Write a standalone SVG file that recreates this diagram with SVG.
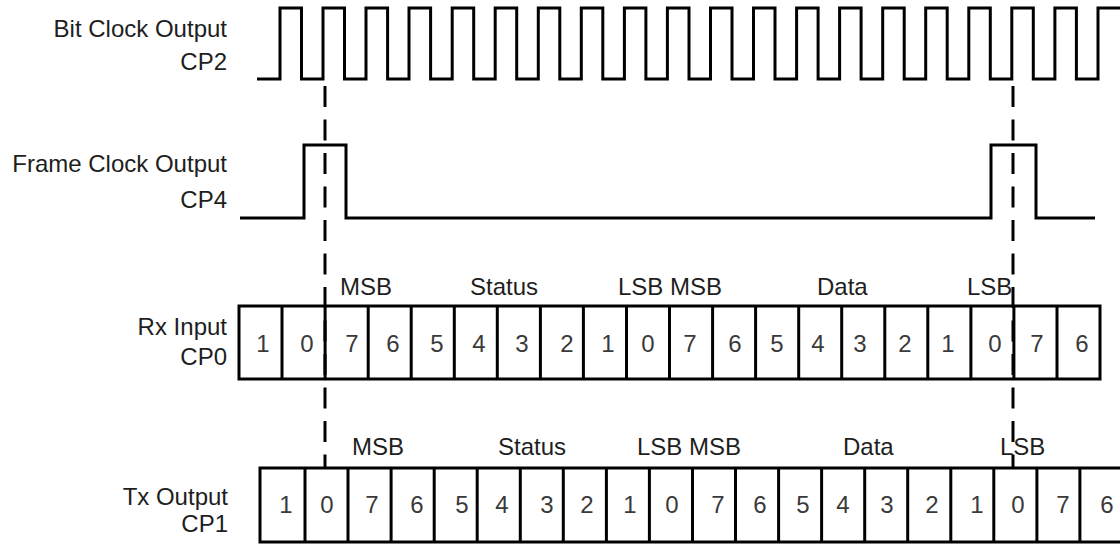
<svg xmlns="http://www.w3.org/2000/svg" width="1120" height="544" viewBox="0 0 1120 544">
<style>
.wave{fill:none;stroke:#000;stroke-width:3;stroke-linejoin:miter}
.box{fill:none;stroke:#000;stroke-width:3}
.div{stroke:#000;stroke-width:3}
.lbl{font-family:"Liberation Sans",Arial,sans-serif;font-size:24px;fill:#1e1e1e;text-anchor:end}
.hdr{font-family:"Liberation Sans",Arial,sans-serif;font-size:24px;fill:#1e1e1e}
.dig{font-family:"Liberation Sans",Arial,sans-serif;font-size:24px;fill:#3a3a3a;text-anchor:middle}
.dash{stroke:#000;stroke-width:3;stroke-dasharray:21 12.5;fill:none}
</style>
<rect width="1120" height="544" fill="#fff"/>

<g id="bitclock">
<text class="lbl" x="227" y="37">Bit Clock Output</text>
<text class="lbl" x="227" y="70">CP2</text>
<path class="wave" d="M257,79 H280 V8 H301.5 V79 H323 V8 H344.5 V79 H366 V8 H387.6 V79 H409 V8 H430.6 V79 H452.2 V8 H473.7 V79 H495.2 V8 H516.7 V79 H538.3 V8 H559.8 V79 H581.3 V8 H602.8 V79 H624.4 V8 H645.9 V79 H667.4 V8 H689 V79 H710.5 V8 H732 V79 H753.5 V8 H775 V79 H796.6 V8 H818.1 V79 H839.6 V8 H861.1 V79 H882.7 V8 H904.2 V79 H925.7 V8 H947.2 V79 H968.8 V8 H990.3 V79 H1011.8 V8 H1033.3 V79 H1054.9 V8 H1076.4 V79 H1098 V8 H1125"/>
</g>

<g id="frameclock">
<text class="lbl" x="227" y="172">Frame Clock Output</text>
<text class="lbl" x="227" y="208">CP4</text>
<path class="wave" d="M240,218 H304 V145 H346 V218 H991 V145 H1036 V218 H1095"/>
</g>

<g id="rx">
<text class="lbl" x="227" y="335">Rx Input</text>
<text class="lbl" x="227" y="365">CP0</text>
<text class="hdr" x="340" y="295">MSB</text>
<text class="hdr" x="470" y="295">Status</text>
<text class="hdr" x="618" y="295">LSB MSB</text>
<text class="hdr" x="817" y="295">Data</text>
<text class="hdr" x="967" y="295">LSB</text>
<rect class="box" x="239" y="306" width="861" height="73"/>
<path class="div" d="M282,306V379 M325.1,306V379 M368.2,306V379 M411.2,306V379 M454.3,306V379 M497.3,306V379 M540.4,306V379 M583.4,306V379 M626.5,306V379 M669.5,306V379 M712.6,306V379 M755.6,306V379 M798.7,306V379 M841.7,306V379 M884.8,306V379 M927.8,306V379 M970.9,306V379 M1013.9,306V379 M1057,306V379"/>
<text class="dig" x="263" y="352">1</text>
<text class="dig" x="307" y="352">0</text>
<text class="dig" x="352" y="352">7</text>
<text class="dig" x="393" y="352">6</text>
<text class="dig" x="437" y="352">5</text>
<text class="dig" x="479" y="352">4</text>
<text class="dig" x="522" y="352">3</text>
<text class="dig" x="567" y="352">2</text>
<text class="dig" x="608" y="352">1</text>
<text class="dig" x="648" y="352">0</text>
<text class="dig" x="690" y="352">7</text>
<text class="dig" x="735" y="352">6</text>
<text class="dig" x="777" y="352">5</text>
<text class="dig" x="818" y="352">4</text>
<text class="dig" x="860" y="352">3</text>
<text class="dig" x="905" y="352">2</text>
<text class="dig" x="948" y="352">1</text>
<text class="dig" x="995" y="352">0</text>
<text class="dig" x="1037" y="352">7</text>
<text class="dig" x="1082" y="352">6</text>
</g>

<g id="tx">
<text class="lbl" x="228" y="505">Tx Output</text>
<text class="lbl" x="228" y="532">CP1</text>
<text class="hdr" x="352" y="455">MSB</text>
<text class="hdr" x="498" y="455">Status</text>
<text class="hdr" x="637" y="455">LSB MSB</text>
<text class="hdr" x="843" y="455">Data</text>
<text class="hdr" x="1000" y="455">LSB</text>
<rect class="box" x="260" y="468" width="880" height="74"/>
<path class="div" d="M305,468V542 M348,468V542 M391.1,468V542 M434.2,468V542 M477.2,468V542 M520.3,468V542 M563.3,468V542 M606.4,468V542 M649.4,468V542 M692.5,468V542 M735.5,468V542 M778.6,468V542 M821.6,468V542 M864.7,468V542 M907.7,468V542 M950.8,468V542 M993.8,468V542 M1036.9,468V542 M1079.9,468V542"/>
<text class="dig" x="286" y="513">1</text>
<text class="dig" x="327" y="513">0</text>
<text class="dig" x="372" y="513">7</text>
<text class="dig" x="417" y="513">6</text>
<text class="dig" x="462" y="513">5</text>
<text class="dig" x="502" y="513">4</text>
<text class="dig" x="547" y="513">3</text>
<text class="dig" x="587" y="513">2</text>
<text class="dig" x="630" y="513">1</text>
<text class="dig" x="672" y="513">0</text>
<text class="dig" x="718" y="513">7</text>
<text class="dig" x="760" y="513">6</text>
<text class="dig" x="803" y="513">5</text>
<text class="dig" x="843" y="513">4</text>
<text class="dig" x="887" y="513">3</text>
<text class="dig" x="932" y="513">2</text>
<text class="dig" x="977" y="513">1</text>
<text class="dig" x="1018" y="513">0</text>
<text class="dig" x="1063" y="513">7</text>
<text class="dig" x="1107" y="513">6</text>
</g>

<g id="connectors">
<line class="dash" x1="325" y1="86" x2="325" y2="468"/>
<line class="dash" x1="1013" y1="86" x2="1013" y2="468"/>
</g>
</svg>
